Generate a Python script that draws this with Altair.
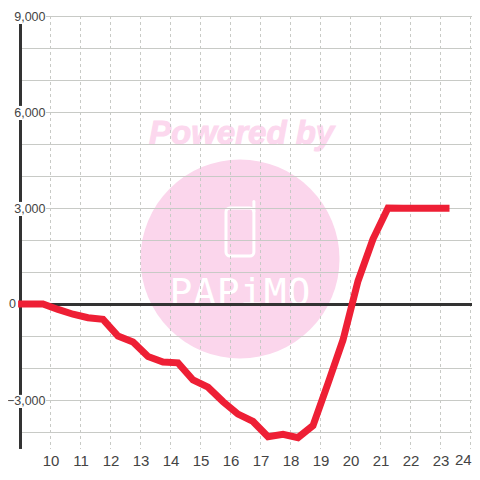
import altair as alt
import pandas as pd

# Series (hour of day, value)
hours = [8.92, 9.75, 10.25, 10.75, 11.25, 11.75, 12.25, 12.75, 13.25, 13.75, 14.25, 14.75, 15.25, 15.75,
         16.25, 16.75, 17.25, 17.75, 18.25, 18.75, 19.25, 19.75, 20.25, 20.75, 21.25, 21.75, 22.25, 22.75, 23.3]
values = [0, 0, -170, -320, -430, -480, -1000, -1190, -1640, -1810, -1840, -2375, -2600, -3050,
          -3440, -3670, -4145, -4070, -4175, -3800, -2480, -1125, 720, 2030, 3000, 2990, 2990, 2990, 2990]

x_ticks = list(range(10, 25))
x_axis_ticks = list(range(10, 24))
y_labeled = [9000, 6000, 3000, -3000]
y_minor = [8000, 7000, 5000, 4000, 2000, 1000, -1000, -2000, -4000]
axis_tops = [8750, 5750, 2750, -3250]
axis_bottoms = [6190, 3190, -2840, -4530]

X_DOMAIN = [8.5833, 24.05]
Y_DOMAIN = [-5250, 9250]
RIGHT = X_DOMAIN[1]
x_scale = alt.Scale(domain=X_DOMAIN, nice=False, zero=False)
y_scale = alt.Scale(domain=Y_DOMAIN, nice=False, zero=False)

INK = "#333333"
GRID = "#c8cac6"
PINK = "#fbd6ec"
RED = "#ee1f35"
LABEL = "#444444"

x_axis = alt.Axis(values=x_axis_ticks, format="d", title=None, grid=False, domain=False, ticks=False,
                  labelFont="Liberation Sans", labelFontSize=15, labelColor=LABEL, labelPadding=0,
                  labelBaseline="top", offset=-19, labelFlush=False, labelOverlap=False)
y_axis = alt.Axis(values=y_labeled, format=",d", title=None, grid=False, domain=False, ticks=False,
                  labelFont="Liberation Sans", labelFontSize=12.5, labelColor=LABEL, labelPadding=0,
                  offset=-37, labelFlush=False, labelOverlap=False)
X = lambda f="x": alt.X(f"{f}:Q", scale=x_scale, axis=x_axis)
Y = lambda f="y": alt.Y(f"{f}:Q", scale=y_scale, axis=y_axis)

circle = alt.Chart(pd.DataFrame({"x": [16.317], "y": [1406]})).mark_point(
    shape="circle", size=39601, filled=True, color=PINK, opacity=1
).encode(x=X(), y=Y())

powered = alt.Chart(pd.DataFrame({"x": [16.37], "y": [5000], "t": ["Powered by"]})).mark_text(
    font="Liberation Sans", fontSize=33, fontWeight="bold", fontStyle="italic",
    color="#fcd8ee", stroke="#fcd8ee", strokeWidth=1, align="center", baseline="alphabetic"
).encode(x=X(), y=Y(), text="t:N")

phone = alt.Chart(pd.DataFrame({"x": [15.85], "x2": [16.78], "y": [3000], "y2": [1500]})).mark_rect(
    fillOpacity=0, stroke="white", strokeWidth=3, cornerRadius=4
).encode(x=X(), x2="x2:Q", y=Y(), y2="y2:Q")

antenna = alt.Chart(pd.DataFrame({"x": [16.78], "y": [3200], "y2": [2900]})).mark_rule(
    stroke="white", strokeWidth=3, strokeCap="round"
).encode(x=X(), y=Y(), y2="y2:Q")

letters = ["P", "A", "P", "i", "M", "O"]
letter_x = [14.35, 15.14, 15.92, 16.71, 17.49, 18.28]
brand = alt.Chart(pd.DataFrame({"x": letter_x, "y": [-40] * 6, "t": letters, "k": list(range(6))})).mark_text(
    font="DejaVu Sans Mono", fontSize=38, color="white", align="center", baseline="alphabetic"
).encode(x=X(), y=Y(), text="t:N", detail="k:N")

v_grid = alt.Chart(pd.DataFrame({"x": x_ticks, "y": [9000] * len(x_ticks), "y2": [-4530] * len(x_ticks)})).mark_rule(
    stroke=GRID, strokeWidth=1, strokeDash=[3, 3]
).encode(x=X(), y=Y(), y2="y2:Q")

h_grid_major = alt.Chart(pd.DataFrame({"y": y_labeled, "x": [9.85] * 4, "x2": [RIGHT] * 4})).mark_rule(
    stroke=GRID, strokeWidth=1, yOffset=0.5
).encode(y=Y(), x=X(), x2="x2:Q")

h_grid_minor = alt.Chart(pd.DataFrame({"y": y_minor, "x": [9.0] * 9, "x2": [RIGHT] * 9})).mark_rule(
    stroke=GRID, strokeWidth=1, yOffset=0.5
).encode(y=Y(), x=X(), x2="x2:Q")

axis_line = alt.Chart(pd.DataFrame({"x": [9.0] * 4, "y": axis_tops, "y2": axis_bottoms})).mark_rule(
    stroke=INK, strokeWidth=3
).encode(x=X(), y=Y(), y2="y2:Q")

zero_line = alt.Chart(pd.DataFrame({"y": [0], "x": [9.0], "x2": [RIGHT]})).mark_rule(
    stroke=INK, strokeWidth=3, yOffset=0.5
).encode(y=Y(), x=X(), x2="x2:Q")

series = alt.Chart(pd.DataFrame({"x": hours, "y": values})).mark_line(
    stroke=RED, strokeWidth=7, strokeJoin="miter", strokeCap="butt"
).encode(x=X(), y=Y(), order="x:Q")

zero_label = alt.Chart(pd.DataFrame({"x": [8.85], "y": [0], "t": ["0"]})).mark_text(
    font="Liberation Sans", fontSize=12.5, color=LABEL, align="right", baseline="middle"
).encode(x=X(), y=Y(), text="t:N")

last_x_label = alt.Chart(pd.DataFrame({"x": [24.04], "y": [-4880], "t": ["24"]})).mark_text(
    font="Liberation Sans", fontSize=15, color=LABEL, align="right", baseline="middle"
).encode(x=X(), y=Y(), text="t:N")

chart = alt.layer(
    circle, powered, phone, antenna, brand, v_grid, h_grid_minor, h_grid_major,
    axis_line, zero_line, series, zero_label, last_x_label
).properties(
    width=464, height=464, padding=0, autosize=alt.AutoSizeParams(type="none")
).configure_view(stroke=None)

chart.save("out.html", embed_options={"renderer": "svg", "actions": False})
